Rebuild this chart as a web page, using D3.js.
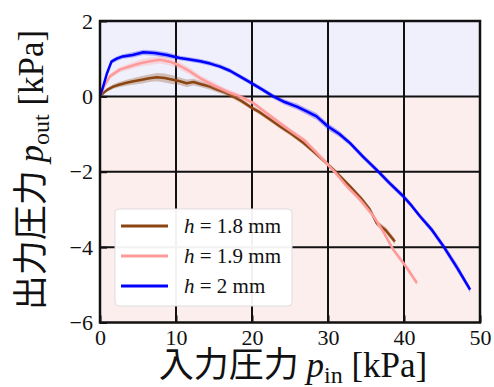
<!DOCTYPE html>
<html lang="ja">
<head>
<meta charset="UTF-8">
<title>入力圧力と出力圧力</title>
<script src="https://cdn.jsdelivr.net/npm/d3@7"></script>
<style>
  body { margin: 0; background: #fff; }
  svg { display: block; }
</style>
</head>
<body>
<div id="chart"></div>
<script>
// 読み取った値 (p_in [kPa], p_out [kPa], 標準偏差)
const pinBrown  = [0, 0.5, 1, 1.75, 2.5, 3.5, 4.4, 5.5, 6.5, 7.5, 8.5, 9.6, 10.5, 11.4, 12.3, 13.2, 14.3, 15.4, 16.5, 17.5, 18.6, 19.7, 21, 22.3, 23.7, 25.2, 26.8, 28.3, 29.8, 31.3, 32.9, 34.4, 35.5, 36.4, 37.6, 38.8];
const poutBrown = [0, 0.1, 0.18, 0.26, 0.31, 0.36, 0.40, 0.44, 0.48, 0.51, 0.49, 0.44, 0.40, 0.35, 0.38, 0.33, 0.27, 0.18, 0.1, 0.0, -0.12, -0.27, -0.42, -0.6, -0.8, -1.0, -1.24, -1.5, -1.77, -2.06, -2.39, -2.72, -3.0, -3.36, -3.55, -3.85];
const sdBrown   = [0, 0.03, 0.05, 0.06, 0.07, 0.08, 0.09, 0.1, 0.1, 0.11, 0.12, 0.12, 0.1, 0.1, 0.09, 0.08, 0.08, 0.07, 0.07, 0.06, 0.06, 0.06, 0.06, 0.06, 0.06, 0.06, 0.06, 0.06, 0.06, 0.06, 0.06, 0.07, 0.07, 0.07, 0.08, 0.08];

const pinPink  = [0, 0.5, 1.3, 2.6, 4, 5.3, 6.6, 7.9, 9.2, 10.2, 11.7, 13.2, 14.9, 16.7, 18.4, 20.2, 21.9, 23.7, 25.2, 26.8, 28.3, 29.8, 31.2, 32.5, 34.2, 36.0, 37.3, 38.6, 40.2, 41.7];
const poutPink = [0, 0.25, 0.53, 0.71, 0.8, 0.88, 0.93, 0.97, 0.92, 0.84, 0.68, 0.48, 0.3, 0.13, 0.0, -0.18, -0.44, -0.71, -0.93, -1.15, -1.45, -1.77, -2.08, -2.39, -2.74, -3.18, -3.6, -4.07, -4.5, -4.95];
const sdPink   = [0, 0.04, 0.06, 0.07, 0.08, 0.09, 0.1, 0.1, 0.1, 0.1, 0.09, 0.08, 0.08, 0.07, 0.07, 0.06, 0.06, 0.06, 0.06, 0.06, 0.06, 0.06, 0.06, 0.06, 0.06, 0.06, 0.06, 0.07, 0.07, 0.07];

const pinBlue  = [0, 0.4, 0.9, 1.5, 2.2, 3.0, 4.3, 5.7, 7.2, 8.8, 10.5, 11.8, 13.2, 14.5, 15.8, 17.1, 18.4, 19.7, 21.2, 22.8, 24.3, 25.9, 27.2, 28.5, 30.0, 31.5, 32.9, 34.6, 36.4, 38.1, 39.9, 41.0, 42.1, 43.7, 45.2, 47.0, 48.7];
const poutBlue = [0, 0.25, 0.6, 0.92, 1.0, 1.06, 1.1, 1.17, 1.15, 1.10, 1.02, 0.98, 0.93, 0.87, 0.79, 0.68, 0.53, 0.38, 0.2, 0.0, -0.15, -0.27, -0.4, -0.53, -0.80, -1.0, -1.24, -1.6, -1.95, -2.3, -2.65, -2.9, -3.18, -3.55, -3.98, -4.55, -5.13];
const sdBlue   = [0, 0.04, 0.05, 0.06, 0.06, 0.06, 0.07, 0.07, 0.07, 0.07, 0.06, 0.06, 0.06, 0.06, 0.06, 0.06, 0.06, 0.06, 0.06, 0.06, 0.07, 0.08, 0.08, 0.09, 0.09, 0.08, 0.07, 0.07, 0.07, 0.07, 0.07, 0.07, 0.07, 0.08, 0.09, 0.1, 0.08];

const seriesNames = ["h = 1.8 mm", "h = 1.9 mm", "h = 2 mm"];
const xTicks = [0, 10, 20, 30, 40, 50];
const yTicks = [-6, -4, -2, 0, 2];

const colors = ["#8b4513", "#ff9a9a", "#0000ff"];

const series = [
  { name: seriesNames[0], x: pinBrown, y: poutBrown, sd: sdBrown, color: colors[0] },
  { name: seriesNames[1], x: pinPink,  y: poutPink,  sd: sdPink,  color: colors[1] },
  { name: seriesNames[2], x: pinBlue,  y: poutBlue,  sd: sdBlue,  color: colors[2] }
];

const width = 494, height = 387;
const margin = { left: 100, right: 14, top: 21, bottom: 64.5 };

const svg = d3.select("#chart").append("svg")
  .attr("width", width)
  .attr("height", height);

const x = d3.scaleLinear().domain([0, 50]).range([margin.left, width - margin.right]);
const y = d3.scaleLinear().domain([-6, 2]).range([height - margin.bottom, margin.top]);

const serif = "'Liberation Serif', 'Times New Roman', serif";
const cjk = "'Noto Sans CJK JP', sans-serif";

// 背景 (正: 青, 負: 赤)
svg.append("rect")
  .attr("x", x(0)).attr("y", y(2))
  .attr("width", x(50) - x(0)).attr("height", y(0) - y(2))
  .attr("fill", "#eff0fc");
svg.append("rect")
  .attr("x", x(0)).attr("y", y(0))
  .attr("width", x(50) - x(0)).attr("height", y(-6) - y(0))
  .attr("fill", "#fdeeee");

// グリッド
svg.append("g").selectAll("line")
  .data(xTicks.slice(1, -1))
  .join("line")
  .attr("x1", d => x(d)).attr("x2", d => x(d))
  .attr("y1", y(2)).attr("y2", y(-6))
  .attr("stroke", "#111").attr("stroke-width", 2);
svg.append("g").selectAll("line")
  .data(yTicks.slice(1, -1))
  .join("line")
  .attr("x1", x(0)).attr("x2", x(50))
  .attr("y1", d => y(d)).attr("y2", d => y(d))
  .attr("stroke", "#111").attr("stroke-width", 2);

// 帯と線
const band = d3.area()
  .x(d => x(d.x))
  .y0(d => y(d.y - d.sd))
  .y1(d => y(d.y + d.sd));
const line = d3.line()
  .x(d => x(d.x))
  .y(d => y(d.y));

const plot = svg.append("g");
series.forEach(s => {
  const pts = s.x.map((v, i) => ({ x: v, y: s.y[i], sd: s.sd[i] }));
  plot.append("path")
    .datum(pts)
    .attr("d", band)
    .attr("fill", s.color)
    .attr("fill-opacity", 0.3);
  plot.append("path")
    .datum(pts)
    .attr("d", line)
    .attr("fill", "none")
    .attr("stroke", s.color)
    .attr("stroke-width", 2.5)
    .attr("stroke-linejoin", "round");
});

// 軸
const xAxis = svg.append("g")
  .attr("transform", `translate(0,${y(-6)})`)
  .call(d3.axisBottom(x).tickValues(xTicks).tickSize(-7).tickPadding(6).tickFormat(d3.format("d")));
const yAxis = svg.append("g")
  .attr("transform", `translate(${x(0)},0)`)
  .call(d3.axisLeft(y).tickValues(yTicks).tickSize(-7).tickPadding(7).tickFormat(d => d < 0 ? "\u2212" + Math.abs(d) : d));

[xAxis, yAxis].forEach(a => {
  a.select(".domain").remove();
  a.selectAll(".tick line").attr("stroke", "#111").attr("stroke-width", 2);
  a.selectAll(".tick text")
    .attr("fill", "#111")
    .style("font-family", serif)
    .style("font-size", "22px");
});
xAxis.selectAll(".tick text").attr("dy", "0.75em");

// 枠
svg.append("rect")
  .attr("x", x(0)).attr("y", y(2))
  .attr("width", x(50) - x(0)).attr("height", y(-6) - y(2))
  .attr("fill", "none")
  .attr("stroke", "#111")
  .attr("stroke-width", 2.5);

// 凡例
const legend = svg.append("g").attr("transform", "translate(115,209)");
legend.append("rect")
  .attr("width", 177).attr("height", 97)
  .attr("rx", 4)
  .attr("fill", "#fff")
  .attr("fill-opacity", 0.95)
  .attr("stroke", "#ddd");
const item = legend.selectAll("g.item")
  .data(series)
  .join("g")
  .attr("class", "item")
  .attr("transform", (d, i) => `translate(0,${17 + i * 30})`);
item.append("line")
  .attr("x1", 6).attr("x2", 53)
  .attr("stroke", d => d.color)
  .attr("stroke-width", 3);
item.append("text")
  .attr("x", 69)
  .attr("dy", "0.35em")
  .style("font-family", serif)
  .style("font-size", "21px")
  .attr("fill", "#111")
  .each(function(d) {
    const t = d3.select(this);
    t.append("tspan").style("font-style", "italic").text("h");
    t.append("tspan").text(d.name.slice(1));
  });

// 軸ラベル
const xl = svg.append("text")
  .attr("x", 293).attr("y", 377)
  .attr("text-anchor", "middle")
  .attr("fill", "#111")
  .style("font-size", "35px");
xl.append("tspan").style("font-family", cjk).text("入力圧力 ");
xl.append("tspan").style("font-family", serif).style("font-style", "italic").text("p");
xl.append("tspan").style("font-family", serif).style("font-size", "24px").attr("dy", 6).text("in");
xl.append("tspan").style("font-family", serif).attr("dy", -6).text(" [kPa]");

const yl = svg.append("text")
  .attr("transform", "translate(43,170) rotate(-90)")
  .attr("text-anchor", "middle")
  .attr("fill", "#111")
  .style("font-size", "35px");
yl.append("tspan").style("font-family", cjk).text("出力圧力 ");
yl.append("tspan").style("font-family", serif).style("font-style", "italic").text("p");
yl.append("tspan").style("font-family", serif).style("font-size", "24px").attr("dy", 6).text("out");
yl.append("tspan").style("font-family", serif).attr("dy", -6).text(" [kPa]");
</script>
</body>
</html>
